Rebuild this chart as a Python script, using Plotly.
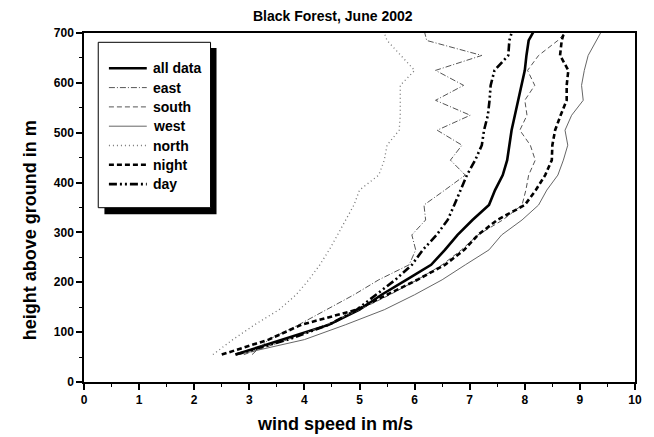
import plotly.graph_objects as go

heights = [55, 85, 115, 145, 175, 205, 235, 265, 295, 325, 355, 385, 415, 445,
           475, 505, 535, 565, 595, 625, 655, 685, 715]

all_data = [2.75, 3.6, 4.45, 5.0, 5.4, 5.85, 6.3, 6.55, 6.78, 7.05, 7.35, 7.46,
            7.6, 7.68, 7.72, 7.76, 7.82, 7.88, 7.95, 8.0, 8.03, 8.07, 8.22]
east = [3.05, 3.35, 3.9, 4.4, 4.9, 5.35, 5.9, 6.02, 5.95, 6.2, 6.17, 6.55,
        6.92, 6.65, 6.86, 6.41, 7.01, 6.38, 6.89, 6.38, 7.22, 6.22, 6.15]
south = [2.9, 3.7, 4.4, 5.0, 5.55, 6.05, 6.5, 6.85, 7.15, 7.6, 7.95, 8.02,
         8.07, 8.19, 8.1, 7.91, 8.04, 8.0, 8.18, 8.05, 8.25, 8.6, 8.85]
west = [2.8, 4.0, 4.75, 5.45, 6.0, 6.5, 6.92, 7.35, 7.58, 7.95, 8.25, 8.4,
        8.6, 8.7, 8.78, 8.73, 8.85, 9.06, 9.03, 9.08, 9.15, 9.3, 9.45]
north = [2.34, 2.7, 3.1, 3.54, 3.85, 4.08, 4.28, 4.45, 4.6, 4.75, 4.9, 5.0,
         5.35, 5.45, 5.5, 5.72, 5.74, 5.74, 5.74, 6.0, 5.75, 5.5, 5.4]
night = [2.5, 3.35, 3.95, 4.95, 5.5, 6.05, 6.55, 6.9, 7.15, 7.5, 8.0, 8.2,
         8.37, 8.49, 8.5, 8.55, 8.65, 8.76, 8.76, 8.79, 8.64, 8.67, 8.75]
day = [2.75, 3.7, 4.45, 4.95, 5.3, 5.65, 5.95, 6.15, 6.4, 6.6, 6.72, 6.83,
       6.95, 7.1, 7.22, 7.26, 7.33, 7.36, 7.38, 7.45, 7.7, 7.72, 7.8]

series_names = ["all data", "east", "south", "west", "north", "night", "day"]
series_values = [all_data, east, south, west, north, night, day]
styles = [
    dict(color="black", width=2.6, dash="solid"),
    dict(color="#555555", width=1, dash="6px,2px,1px,2px"),
    dict(color="#555555", width=1, dash="5px,3px"),
    dict(color="#666666", width=1, dash="solid"),
    dict(color="#777777", width=1.3, dash="1px,3px"),
    dict(color="black", width=2.6, dash="5px,3px"),
    dict(color="black", width=2.6, dash="8px,3px,2px,3px,2px,3px"),
]

W, H = 654, 437
L, R, T, B = 84, 17, 33, 55
pw, ph = W - L - R, H - T - B

def px2paper(px, py):
    return (px - L) / pw, (H - B - py) / ph

fig = go.Figure()
for name, vals, st in zip(series_names, series_values, styles):
    fig.add_trace(go.Scatter(x=vals, y=heights, mode="lines", name=name,
                             line=st, showlegend=False, cliponaxis=True))

shapes = []
annotations = []
# legend shadow and box
sx0, sy0 = px2paper(104.5, 214.3)
sx1, sy1 = px2paper(217, 48)
shapes.append(dict(type="rect", xref="paper", yref="paper", x0=sx0, y0=sy0,
                   x1=sx1, y1=sy1, fillcolor="black", line=dict(width=0)))
bx0, by0 = px2paper(98.3, 207.7)
bx1, by1 = px2paper(211, 42.3)
shapes.append(dict(type="rect", xref="paper", yref="paper", x0=bx0, y0=by0,
                   x1=bx1, y1=by1, fillcolor="white",
                   line=dict(color="black", width=1)))
for i, (name, st) in enumerate(zip(series_names, styles)):
    py = 68.3 + i * 19.3
    lx0, ly = px2paper(109, py)
    lx1, _ = px2paper(147, py)
    shapes.append(dict(type="line", xref="paper", yref="paper", x0=lx0, y0=ly,
                       x1=lx1, y1=ly, line=st))
    tx, _ = px2paper(151.5, py)
    annotations.append(dict(text=name, xref="paper", yref="paper", x=tx, y=ly,
                            xanchor="left", yanchor="middle", showarrow=False,
                            font=dict(family="Liberation Sans", size=14,
                                      color="black", weight="bold")))

tx, ty = px2paper(334, 16)
annotations.append(dict(text="Black Forest, June 2002", xref="paper", yref="paper",
                        x=tx, y=ty, xanchor="center", yanchor="middle",
                        showarrow=False,
                        font=dict(family="Liberation Sans", size=14,
                                  color="black", weight="bold")))
tx, ty = px2paper(336, 424)
annotations.append(dict(text="wind speed in m/s", xref="paper", yref="paper",
                        x=tx, y=ty, xanchor="center", yanchor="middle",
                        showarrow=False,
                        font=dict(family="Liberation Sans", size=18,
                                  color="black", weight="bold")))
tx, ty = px2paper(29.5, 230.5)
annotations.append(dict(text="height above ground in m", xref="paper", yref="paper",
                        x=tx, y=ty, xanchor="center", yanchor="middle",
                        textangle=-90, showarrow=False,
                        font=dict(family="Liberation Sans", size=18,
                                  color="black", weight="bold")))

tickfont = dict(family="Liberation Sans", size=12, color="black", weight="bold")
fig.update_layout(
    width=W, height=H,
    margin=dict(l=L, r=R, t=T, b=B, pad=0),
    paper_bgcolor="white", plot_bgcolor="white",
    showlegend=False,
    shapes=shapes, annotations=annotations,
    xaxis=dict(range=[0, 10], dtick=1, tick0=0, showgrid=False, zeroline=False,
               showline=True, mirror=True, linecolor="black", linewidth=1.5,
               ticks="outside", ticklen=6, tickwidth=1.5, tickcolor="black",
               tickfont=tickfont,
               minor=dict(dtick=0.5, ticks="outside", ticklen=3, tickwidth=1.2,
                          tickcolor="black", showgrid=False)),
    yaxis=dict(range=[0, 700], dtick=100, tick0=0, showgrid=False, zeroline=False,
               showline=True, mirror=True, linecolor="black", linewidth=1.5,
               ticks="outside", ticklen=6, tickwidth=1.5, tickcolor="black",
               tickfont=tickfont,
               minor=dict(dtick=50, ticks="outside", ticklen=3, tickwidth=1.2,
                          tickcolor="black", showgrid=False)),
)

fig.write_html("out.html")
